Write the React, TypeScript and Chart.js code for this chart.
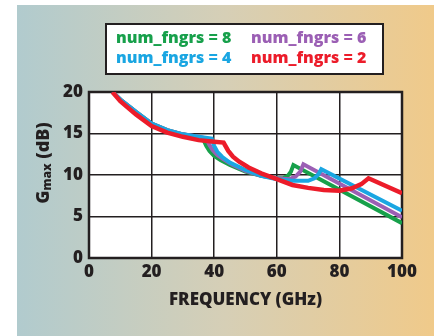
import React, { useEffect, useRef } from "react";
import { Chart, registerables } from "chart.js";
Chart.register(...registerables);

const seriesLabels = ["num_fngrs = 8", "num_fngrs = 6", "num_fngrs = 4", "num_fngrs = 2"];
const seriesColors = ["#17a04b", "#9b5fb4", "#1aa6e2", "#ec1c2a"];

const freqN8 = [7.5, 10, 15, 20, 25, 30, 35, 36.5, 37.5, 38.5, 40, 42, 45, 50, 55, 60, 62, 63.5, 64.5, 65.3, 100];
const gainN8 = [20, 19.1, 17.6, 16.2, 15.4, 14.9, 14.5, 14.3, 13.5, 12.9, 12.3, 11.8, 11.2, 10.4, 9.9, 9.6, 9.6, 9.9, 10.4, 11.2, 4.2];

const freqN6 = [7.5, 10, 15, 20, 25, 30, 35, 37.5, 38.5, 39.5, 41, 43, 46, 50, 55, 60, 64, 66, 67.5, 68.5, 100];
const gainN6 = [20, 19.1, 17.6, 16.2, 15.4, 14.9, 14.6, 14.4, 13.6, 13.0, 12.4, 11.9, 11.2, 10.5, 9.9, 9.6, 9.5, 9.8, 10.4, 11.3, 4.9];

const freqN4 = [7.5, 10, 15, 20, 25, 30, 35, 39.2, 40, 41, 42.5, 45, 50, 55, 60, 65, 70, 72, 73.3, 74.2, 100];
const gainN4 = [20, 19.1, 17.6, 16.2, 15.4, 14.9, 14.6, 14.4, 13.5, 12.8, 12.2, 11.5, 10.6, 9.9, 9.5, 9.3, 9.3, 9.6, 10.1, 10.7, 5.7];

const freqN2 = [7.5, 10, 15, 20, 25, 30, 35, 40, 43, 44.5, 46, 48, 51, 55, 60, 65, 70, 75, 80, 84, 87, 89.3, 100];
const gainN2 = [20, 18.9, 17.3, 15.9, 15.1, 14.6, 14.2, 14.0, 13.9, 12.9, 12.2, 11.6, 10.9, 10.2, 9.5, 8.8, 8.45, 8.2, 8.1, 8.4, 8.9, 9.6, 7.8];

const xTicks = [0, 20, 40, 60, 80, 100];
const yTicks = [0, 5, 10, 15, 20];
const xTitle = "FREQUENCY (GHz)";
const yTitleMain = "G";
const yTitleSub = "max";
const yTitleRest = " (dB)";

const FONT = "'Open Sans', Lato, sans-serif";
const INK = "#231f20";

const toPts = (xs: number[], ys: number[]) => xs.map((x, i) => ({ x, y: ys[i] }));

const decorPlugin = {
  id: "decor",
  beforeDraw(chart: any) {
    const { ctx, chartArea: a } = chart;
    ctx.save();
    ctx.fillStyle = "#ffffff";
    ctx.fillRect(a.left, a.top, a.right - a.left, a.bottom - a.top);
    ctx.restore();
  },
  beforeDatasetsDraw(chart: any) {
    const { ctx, chartArea: a } = chart;
    ctx.save();
    ctx.strokeStyle = INK;
    ctx.lineWidth = 2.5;
    ctx.strokeRect(a.left, a.top, a.right - a.left, a.bottom - a.top);
    ctx.restore();
  },
  afterDraw(chart: any) {
    const { ctx, chartArea: a } = chart;
    ctx.save();
    // legend box
    ctx.fillStyle = "#ffffff";
    ctx.fillRect(106, 24, 277, 50);
    ctx.strokeStyle = INK;
    ctx.lineWidth = 2;
    ctx.strokeRect(106, 24, 277, 50);
    ctx.font = `800 16px ${FONT}`;
    ctx.textBaseline = "middle";
    ctx.textAlign = "left";
    const pos = [
      [116, 38],
      [251, 38],
      [116, 58],
      [251, 58],
    ];
    [0, 1, 2, 3].forEach((si, k) => {
      ctx.fillStyle = seriesColors[si];
      ctx.fillText(seriesLabels[si], pos[k][0], pos[k][1]);
    });
    // x title
    ctx.fillStyle = INK;
    ctx.font = `800 17px ${FONT}`;
    ctx.textAlign = "center";
    ctx.fillText(xTitle, (a.left + a.right) / 2, 300);
    // y title rotated
    ctx.translate(44, 163);
    ctx.rotate(-Math.PI / 2);
    const mainFont = `800 18px ${FONT}`;
    const subFont = `800 12px ${FONT}`;
    ctx.font = mainFont;
    const w1 = ctx.measureText(yTitleMain).width;
    const w3 = ctx.measureText(yTitleRest).width;
    ctx.font = subFont;
    const w2 = ctx.measureText(yTitleSub).width;
    const total = w1 + w2 + w3;
    let x = -total / 2;
    ctx.textAlign = "left";
    ctx.font = mainFont;
    ctx.fillText(yTitleMain, x, 0);
    x += w1;
    ctx.font = subFont;
    ctx.fillText(yTitleSub, x, 4);
    x += w2;
    ctx.font = mainFont;
    ctx.fillText(yTitleRest, x, 0);
    ctx.restore();
  },
};

export default function App() {
  const ref = useRef<HTMLCanvasElement | null>(null);
  useEffect(() => {
    if (!ref.current) return;
    const data = {
      datasets: [
        { label: seriesLabels[0], data: toPts(freqN8, gainN8), borderColor: seriesColors[0], order: 3 },
        { label: seriesLabels[1], data: toPts(freqN6, gainN6), borderColor: seriesColors[1], order: 2 },
        { label: seriesLabels[2], data: toPts(freqN4, gainN4), borderColor: seriesColors[2], order: 1 },
        { label: seriesLabels[3], data: toPts(freqN2, gainN2), borderColor: seriesColors[3], order: 0, borderWidth: 4.5 },
      ].map((d: any) => ({ borderWidth: 4, pointRadius: 0, tension: 0, fill: false, ...d })),
    };
    const chart = new Chart(ref.current, {
      type: "line",
      data: data as any,
      options: {
        animation: false,
        responsive: false,
        devicePixelRatio: 1,
        layout: { padding: { left: 0, right: 35, top: 92, bottom: 0 } },
        plugins: { legend: { display: false }, tooltip: { enabled: false } },
        scales: {
          x: {
            type: "linear",
            min: 0,
            max: 100,
            afterBuildTicks: (s: any) => {
              s.ticks = xTicks.map((v) => ({ value: v }));
            },
            afterFit: (s: any) => {
              s.height = 78;
            },
            ticks: {
              padding: 4,
              color: INK,
              font: { family: FONT, size: 17, weight: "800" },
              maxRotation: 0,
            },
            grid: { color: INK, lineWidth: 1.5, drawTicks: false },
            border: { display: false },
          },
          y: {
            type: "linear",
            min: 0,
            max: 20,
            afterBuildTicks: (s: any) => {
              s.ticks = yTicks.map((v) => ({ value: v }));
            },
            afterFit: (s: any) => {
              s.width = 89;
            },
            ticks: {
              padding: 6,
              color: INK,
              font: { family: FONT, size: 17, weight: "800" },
            },
            grid: { color: INK, lineWidth: 1.5, drawTicks: false },
            border: { display: false },
          },
        },
      },
      plugins: [decorPlugin],
    });
    return () => chart.destroy();
  }, []);
  return (
    <div style={{ position: "fixed", left: 0, top: 0, width: 437, height: 336, background: "#ffffff", overflow: "hidden" }}>
      <div
        style={{
          position: "absolute",
          left: 17,
          top: 5,
          width: 417,
          height: 331,
          background: "linear-gradient(to right, #b1cbce 0%, #d6cfb6 50%, #f0ca8a 100%)",
        }}
      />
      <canvas ref={ref} width={437} height={336} style={{ position: "absolute", left: 0, top: 0 }} />
    </div>
  );
}
